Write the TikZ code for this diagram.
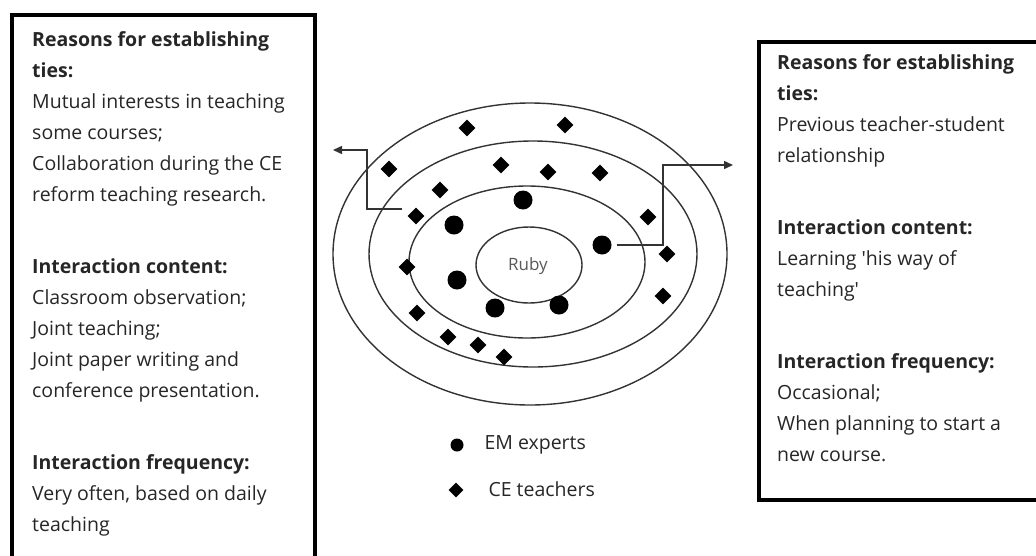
\documentclass[tikz,border=0pt]{standalone}
\usepackage{fontspec}
\setmainfont{Open Sans}
\usetikzlibrary{shapes.geometric,arrows.meta}

\tikzset{
  em/.style={circle,fill=black,inner sep=0pt,minimum size=19pt},
  ce/.style={diamond,fill=black,inner sep=0pt,minimum size=17pt},
  ring/.style={draw=black!80,line width=1.4pt},
  link/.style={draw=black!80,line width=1.4pt,-{Triangle[length=9pt,width=8pt]}},
  frame/.style={draw=black,line width=4.5pt},
  note/.style={anchor=north west,align=left,inner sep=0pt,text=black!85,
    font=\fontsize{19.5}{31}\selectfont},
  key/.style={anchor=west,text=black!85,font=\fontsize{19.5}{22}\selectfont},
}

\begin{document}
\begin{tikzpicture}[x=1pt,y=-1pt]
  \path[use as bounding box,clip] (0,0) rectangle (1036,555);

  % left and right notes
  \draw[frame] (12,15) rectangle (315,575);
  \draw[frame] (759,42) rectangle (1050,500);
  \node[note] (lnote) at (32,31) {%
    \textbf{Reasons for establishing}\\
    \textbf{ties:}\\
    Mutual interests in teaching\\
    some courses;\\
    Collaboration during the CE\\
    reform teaching research.\\[41pt]
    \textbf{Interaction content:}\\
    Classroom observation;\\
    Joint teaching;\\
    Joint paper writing and\\
    conference presentation.\\[41pt]
    \textbf{Interaction frequency:}\\
    Very often, based on daily\\
    teaching};
  \node[note] (rnote) at (777,54) {%
    \textbf{Reasons for establishing}\\
    \textbf{ties:}\\
    Previous teacher-student\\
    relationship\\[41pt]
    \textbf{Interaction content:}\\
    Learning \textquotesingle his way of\\
    teaching\textquotesingle\\[41pt]
    \textbf{Interaction frequency:}\\
    Occasional;\\
    When planning to start a\\
    new course.};

  % rings
  \draw[ring] (530,254) ellipse [x radius=197pt,y radius=151pt];
  \draw[ring] (533,254) ellipse [x radius=164pt,y radius=113pt];
  \draw[ring] (527,262) ellipse [x radius=118pt,y radius=76pt];
  \draw[ring] (529,265) ellipse [x radius=53pt,y radius=38pt];
  \node[text=black!65,font=\fontsize{17}{20}\selectfont] (ruby) at (528,266) {Ruby};

  % EM experts
  \draw
    (523,200) node[em] (e1){}
    (454,225) node[em] (e2){}
    (602,245) node[em] (e3){}
    (457,280) node[em] (e4){}
    (495,308) node[em] (e5){}
    (559,305) node[em] (e6){};

  % CE teachers
  \draw
    (467,128) node[ce] (c1){}
    (565,125) node[ce] (c2){}
    (389,169) node[ce] (c3){}
    (501,165) node[ce] (c4){}
    (548,172) node[ce] (c5){}
    (600,173) node[ce] (c6){}
    (440,190) node[ce] (c7){}
    (416,216) node[ce] (c8){}
    (648,217) node[ce] (c9){}
    (667,254) node[ce] (c10){}
    (407,267) node[ce] (c11){}
    (663,296) node[ce] (c12){}
    (417,313) node[ce] (c13){}
    (448,337) node[ce] (c14){}
    (478,345) node[ce] (c15){}
    (504,357) node[ce] (c16){};

  % links to the notes
  \coordinate (lbend) at (367,150);
  \coordinate (ltip) at (333,150);
  \coordinate (rbend) at (663,165);
  \coordinate (rtip) at (733,165);
  \draw[link] ([xshift=-5pt,yshift=7pt]c8.west) -| (lbend) -- (ltip);
  \draw[link] ([xshift=5pt]e3.east) -| (rbend) -- (rtip);

  % legend
  \node[em,minimum size=13pt] (kem) at (457,445) {};
  \node[ce,minimum size=15pt] (kce) at (456,490) {};
  \node[key] (tem) at (481,445) {EM experts};
  \node[key] (tce) at (485,489) {CE teachers};
\end{tikzpicture}
\end{document}
